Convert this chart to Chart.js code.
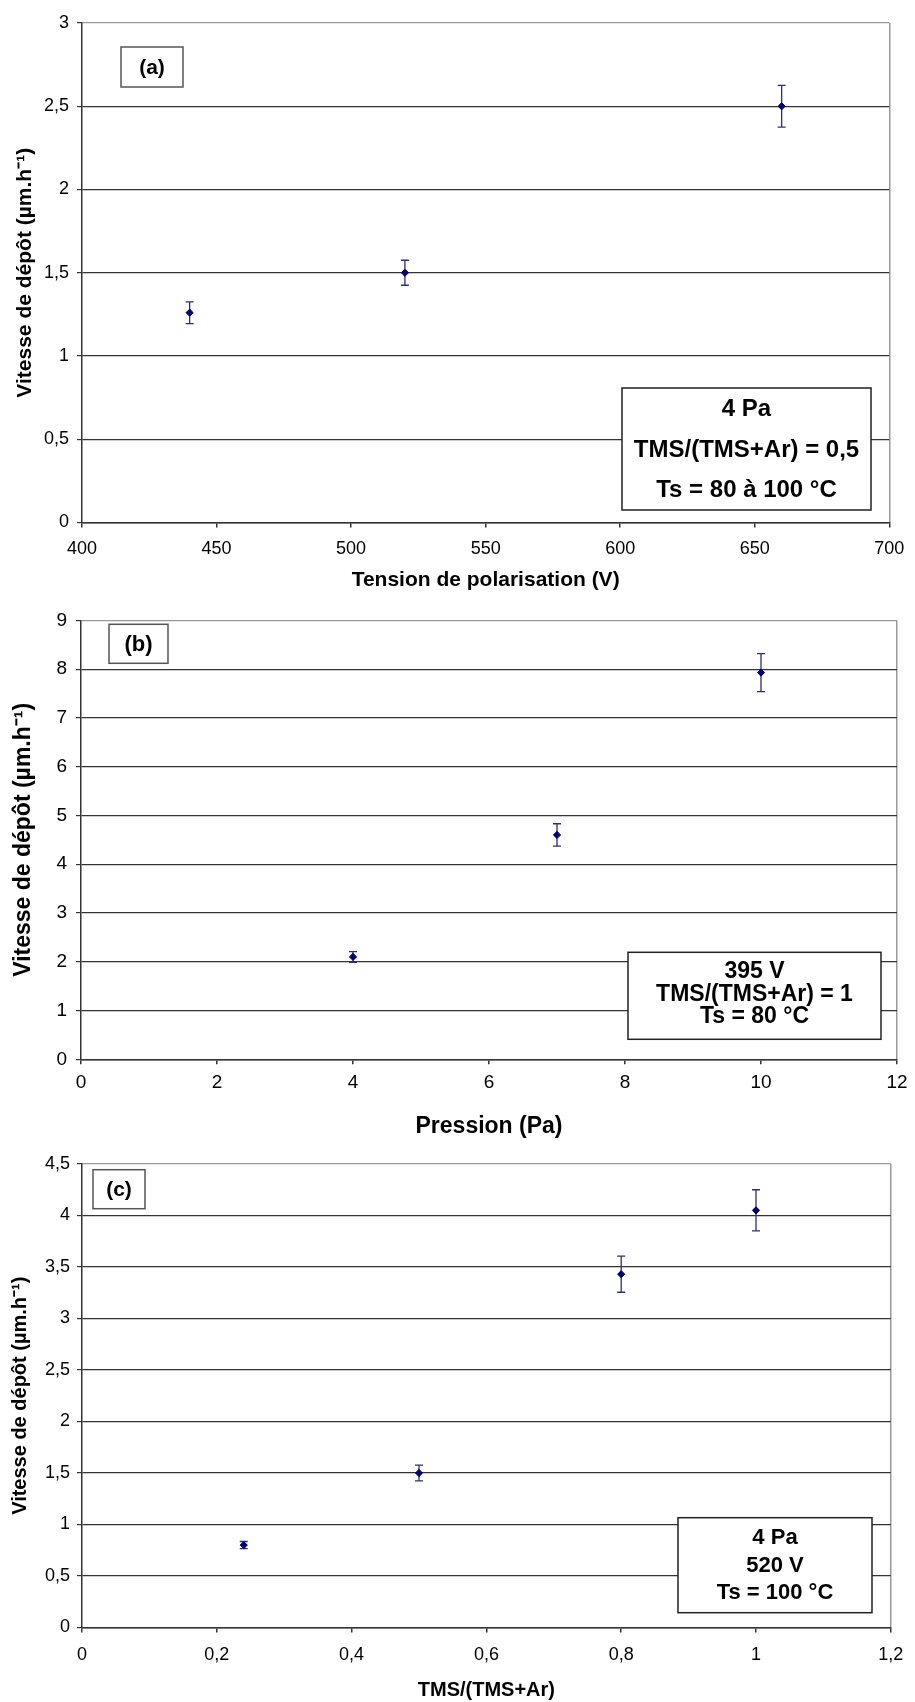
<!DOCTYPE html>
<html>
<head>
<meta charset="utf-8">
<script src="https://cdn.jsdelivr.net/npm/chart.js@4.4.1/dist/chart.umd.min.js"></script>
<style>
  body { margin: 0; background: #fff; }
  #wrap { position: relative; width: 915px; height: 1702px; }
  canvas { position: absolute; left: 0; }
</style>
</head>
<body>
<div id="wrap">
  <canvas id="chartA" width="915" height="600" style="top:0px"></canvas>
  <canvas id="chartB" width="915" height="545" style="top:600px"></canvas>
  <canvas id="chartC" width="915" height="557" style="top:1145px"></canvas>
</div>
<script>
// (a) vitesse vs tension de polarisation
var tensionV = [440, 520, 660];
var vitesseA = [1.26, 1.50, 2.50];
var erreurA = [0.065, 0.075, 0.125];
var xTicksA = [400, 450, 500, 550, 600, 650, 700];
var yTicksA = [0, 0.5, 1, 1.5, 2, 2.5, 3];
var noteA = ['4 Pa', 'TMS/(TMS+Ar) = 0,5', 'Ts = 80 à 100 °C'];

// (b) vitesse vs pression
var pressionPa = [4, 7, 10];
var vitesseB = [2.10, 4.60, 7.93];
var erreurB = [0.11, 0.23, 0.39];
var xTicksB = [0, 2, 4, 6, 8, 10, 12];
var yTicksB = [0, 1, 2, 3, 4, 5, 6, 7, 8, 9];
var noteB = ['395 V', 'TMS/(TMS+Ar) = 1', 'Ts = 80 °C'];

// (c) vitesse vs TMS/(TMS+Ar)
var rapportTMS = [0.24, 0.5, 0.8, 1.0];
var vitesseC = [0.80, 1.50, 3.43, 4.05];
var erreurC = [0.035, 0.077, 0.175, 0.20];
var xTicksC = [0, 0.2, 0.4, 0.6, 0.8, 1, 1.2];
var yTicksC = [0, 0.5, 1, 1.5, 2, 2.5, 3, 3.5, 4, 4.5];
var noteC = ['4 Pa', '520 V', 'Ts = 100 °C'];

var yTitle = 'Vitesse de dépôt (µm.h⁻¹)';
var FONT = "'Liberation Sans', Arial, sans-serif";

function fmt(v) {
    return String(v).replace('.', ',');
}

// error bars, letter box and condition box
var extras = {
    id: 'extras',
    beforeDatasetsDraw: function (chart) {
        var o = chart.options.plugins.extras;
        var ctx = chart.ctx;
        var xs = chart.scales.x, ys = chart.scales.y;
        ctx.save();
        ctx.strokeStyle = '#2e2e78';
        ctx.lineWidth = 1.3;
        o.xs.forEach(function (xv, i) {
            var px = xs.getPixelForValue(xv);
            var top = ys.getPixelForValue(o.ys[i] + o.errs[i]);
            var bot = ys.getPixelForValue(o.ys[i] - o.errs[i]);
            ctx.beginPath();
            ctx.moveTo(px, top); ctx.lineTo(px, bot);
            ctx.moveTo(px - 4, top); ctx.lineTo(px + 4, top);
            ctx.moveTo(px - 4, bot); ctx.lineTo(px + 4, bot);
            ctx.stroke();
        });
        ctx.restore();
    },
    afterDraw: function (chart) {
        var o = chart.options.plugins.extras;
        var ctx = chart.ctx;
        ctx.save();
        // letter box
        var b = o.letterBox;
        ctx.fillStyle = '#fff';
        ctx.fillRect(b[0], b[1], b[2], b[3]);
        ctx.strokeStyle = '#555';
        ctx.lineWidth = 1.5;
        ctx.strokeRect(b[0], b[1], b[2], b[3]);
        ctx.fillStyle = '#000';
        ctx.font = 'bold ' + o.letterSize + 'px ' + FONT;
        ctx.textAlign = 'center';
        ctx.textBaseline = 'middle';
        ctx.fillText(o.letter, b[0] + b[2] / 2, b[1] + b[3] / 2 + 1);
        // condition box
        var n = o.noteBox;
        ctx.fillStyle = '#fff';
        ctx.fillRect(n[0], n[1], n[2], n[3]);
        ctx.strokeStyle = '#222';
        ctx.strokeRect(n[0], n[1], n[2], n[3]);
        ctx.fillStyle = '#000';
        ctx.font = 'bold ' + o.noteSize + 'px ' + FONT;
        o.note.forEach(function (line, i) {
            ctx.fillText(line, n[0] + n[2] / 2, o.noteLines[i]);
        });
        ctx.restore();
    }
};

function makeChart(id, c) {
    var tickLen = 5;
    var xLH = c.tickSize * 1.2;
    var titleLHx = c.xTitleSize * 1.2;
    var titleLHy = c.yTitleSize * 1.2;
    var H = document.getElementById(id).height;
    var points = c.xs.map(function (x, i) { return { x: x, y: c.ys[i] }; });
    var maxY = c.yTicks[c.yTicks.length - 1];
    var maxX = c.xTicks[c.xTicks.length - 1];

    return new Chart(document.getElementById(id), {
        type: 'scatter',
        data: {
            datasets: [{
                data: points,
                pointStyle: 'rectRot',
                pointRadius: 3.6,
                backgroundColor: '#000070',
                borderColor: '#000070',
                borderWidth: 1
            }]
        },
        options: {
            responsive: false,
            animation: false,
            devicePixelRatio: 1,
            layout: { padding: { top: c.plot.top, right: 915 - c.plot.right, left: 0, bottom: 0 } },
            plugins: {
                legend: { display: false },
                tooltip: { enabled: false },
                extras: {
                    xs: c.xs, ys: c.ys, errs: c.errs,
                    letter: c.letter, letterBox: c.letterBox, letterSize: c.letterSize,
                    note: c.note, noteBox: c.noteBox, noteLines: c.noteLines, noteSize: c.noteSize
                }
            },
            scales: {
                x: {
                    type: 'linear',
                    min: c.xTicks[0],
                    max: maxX,
                    afterBuildTicks: function (s) { s.ticks = c.xTicks.map(function (v) { return { value: v }; }); },
                    afterFit: function (s) { s.height = H - c.plot.bottom; },
                    grid: {
                        color: function (ctx) { return ctx.tick && ctx.tick.value === maxX ? '#999' : 'rgba(0,0,0,0)'; },
                        lineWidth: 1.5,
                        tickColor: '#333',
                        tickLength: tickLen
                    },
                    border: { color: '#333', width: 1.5 },
                    ticks: {
                        autoSkip: false,
                        maxRotation: 0,
                        padding: c.xTickCenter - c.plot.bottom - tickLen - xLH / 2,
                        color: '#000',
                        font: { family: FONT, size: c.tickSize },
                        callback: function (v) { return fmt(v); }
                    },
                    title: {
                        display: true,
                        text: c.xTitle,
                        color: '#000',
                        font: { family: FONT, size: c.xTitleSize, weight: 'bold' },
                        padding: { top: 0, bottom: H - c.xTitleCenter - titleLHx / 2 }
                    }
                },
                y: {
                    type: 'linear',
                    min: 0,
                    max: maxY,
                    afterBuildTicks: function (s) { s.ticks = c.yTicks.map(function (v) { return { value: v }; }); },
                    afterFit: function (s) { s.width = c.plot.left; },
                    grid: {
                        color: function (ctx) { return ctx.tick && ctx.tick.value === maxY ? '#999' : '#333'; },
                        lineWidth: 1.2,
                        tickColor: '#333',
                        tickLength: tickLen
                    },
                    border: { color: '#333', width: 1.5 },
                    ticks: {
                        padding: c.yTickPad,
                        color: '#000',
                        font: { family: FONT, size: c.tickSize },
                        callback: function (v) { return fmt(v); }
                    },
                    title: {
                        display: true,
                        text: yTitle,
                        color: '#000',
                        font: { family: FONT, size: c.yTitleSize, weight: 'bold' },
                        padding: { top: c.yTitleCenter - titleLHy / 2, bottom: 0 }
                    }
                }
            }
        },
        plugins: [extras]
    });
}

makeChart('chartA', {
    xs: tensionV, ys: vitesseA, errs: erreurA, xTicks: xTicksA, yTicks: yTicksA,
    plot: { left: 82, top: 23, right: 896, bottom: 522.5 },
    tickSize: 18, xTickCenter: 549, yTickPad: 8,
    xTitle: 'Tension de polarisation (V)', xTitleSize: 21, xTitleCenter: 580,
    yTitleSize: 21, yTitleCenter: 25,
    letter: '(a)', letterBox: [121, 47, 62, 40], letterSize: 21,
    note: noteA, noteBox: [622, 388, 249, 122], noteLines: [409, 450, 490], noteSize: 24
});

makeChart('chartB', {
    xs: pressionPa, ys: vitesseB, errs: erreurB, xTicks: xTicksB, yTicks: yTicksB,
    plot: { left: 81, top: 18.3, right: 897, bottom: 459.3 },
    tickSize: 19, xTickCenter: 482.7, yTickPad: 9,
    xTitle: 'Pression (Pa)', xTitleSize: 23, xTitleCenter: 526.7,
    yTitleSize: 23, yTitleCenter: 24,
    letter: '(b)', letterBox: [109, 24.3, 59, 39], letterSize: 22,
    note: noteB, noteBox: [628, 352.3, 253, 87], noteLines: [371.7, 394.3, 416.7], noteSize: 23
});

makeChart('chartC', {
    xs: rapportTMS, ys: vitesseC, errs: erreurC, xTicks: xTicksC, yTicks: yTicksC,
    plot: { left: 82, top: 19, right: 899, bottom: 482.5 },
    tickSize: 18, xTickCenter: 510, yTickPad: 7,
    xTitle: 'TMS/(TMS+Ar)', xTitleSize: 20, xTitleCenter: 545,
    yTitleSize: 20, yTitleCenter: 20,
    letter: '(c)', letterBox: [93, 24.7, 52, 39], letterSize: 21,
    note: noteC, noteBox: [678, 372.7, 194, 95], noteLines: [393.3, 420.7, 448.3], noteSize: 22
});
</script>
</body>
</html>
